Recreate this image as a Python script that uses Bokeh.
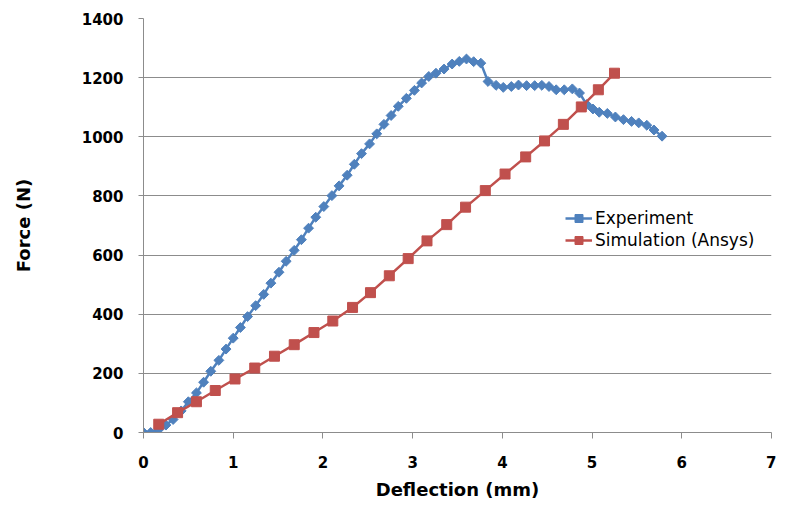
import numpy as np
from bokeh.plotting import figure
from bokeh.models import Range1d, FixedTicker
from bokeh.embed import file_html
from bokeh.resources import INLINE

# Experiment data (deflection mm, force N)
exp_x = [0.00, 0.08, 0.17, 0.25, 0.33, 0.42, 0.50, 0.59, 0.67, 0.75, 0.84, 0.92, 1.00, 1.08,
         1.16, 1.25, 1.34, 1.42, 1.51, 1.59, 1.68, 1.76, 1.84, 1.92, 2.01, 2.10, 2.18, 2.27,
         2.35, 2.43, 2.52, 2.60, 2.68, 2.76, 2.84, 2.93, 3.02, 3.10, 3.18, 3.26, 3.35, 3.44,
         3.52, 3.60, 3.68, 3.76, 3.84, 3.93, 4.01, 4.10, 4.18, 4.27, 4.36, 4.44, 4.52, 4.60,
         4.69, 4.78, 4.86, 4.94, 5.01, 5.08, 5.17, 5.26, 5.35, 5.44, 5.52, 5.61, 5.69, 5.78]
exp_y = [0, 0, 10, 25, 44, 73, 104, 134, 170, 207, 244, 282, 319, 355,
         392, 429, 467, 505, 542, 579, 616, 652, 691, 728, 764, 801, 834, 870,
         907, 943, 976, 1010, 1042, 1072, 1103, 1130, 1157, 1182, 1204, 1215, 1229, 1246,
         1255, 1263, 1254, 1249, 1187, 1174, 1167, 1170, 1175, 1173, 1173, 1174, 1170, 1159,
         1159, 1162, 1148, 1109, 1094, 1083, 1079, 1067, 1058, 1052, 1047, 1039, 1023, 1002]

# Simulation (Ansys)
sim_x = [0.17, 0.38, 0.59, 0.80, 1.02, 1.24, 1.46, 1.68, 1.90, 2.11, 2.33, 2.53, 2.74,
         2.95, 3.16, 3.38, 3.59, 3.81, 4.03, 4.26, 4.47, 4.68, 4.88, 5.07, 5.25]
sim_y = [28, 67, 104, 142, 181, 218, 258, 297, 338, 377, 423, 473, 530,
         588, 648, 703, 762, 818, 874, 932, 986, 1042, 1101, 1159, 1215]

x_ticks = [0, 1, 2, 3, 4, 5, 6, 7]
y_ticks = [0, 200, 400, 600, 800, 1000, 1200, 1400]

BLUE = "#4F81BD"
RED = "#C0504D"
GRAY = "#8C8C8C"

p = figure(width=776, height=502, output_backend="svg", toolbar_location=None,
           x_range=Range1d(0, 7), y_range=Range1d(0, 1400),
           min_border_left=143, min_border_right=5, min_border_top=18, min_border_bottom=70)
p.outline_line_color = None
p.background_fill_color = "white"
p.border_fill_color = "white"

p.line(exp_x, exp_y, line_color=BLUE, line_width=2.5, legend_label="Experiment")
p.scatter(exp_x, exp_y, marker="square", angle=np.pi / 4, size=7, fill_color=BLUE,
          line_color=BLUE, legend_label="Experiment")
p.line(sim_x, sim_y, line_color=RED, line_width=2.5, legend_label="Simulation (Ansys)")
p.scatter(sim_x, sim_y, marker="square", size=10, fill_color=RED, line_color=RED,
          legend_label="Simulation (Ansys)")

p.xaxis.ticker = FixedTicker(ticks=x_ticks)
p.yaxis.ticker = FixedTicker(ticks=y_ticks)
p.xgrid.grid_line_color = None
p.ygrid.grid_line_color = GRAY
p.ygrid.grid_line_width = 1

for ax in (p.xaxis, p.yaxis):
    ax.axis_line_color = GRAY
    ax.axis_line_width = 1
    ax.major_tick_line_color = GRAY
    ax.minor_tick_line_color = None
    ax.major_tick_in = 0
    ax.major_label_text_font = "DejaVu Sans"
    ax.major_label_text_font_style = "bold"
    ax.major_label_text_font_size = "15px"
    ax.major_label_text_color = "black"
    ax.axis_label_text_font = "DejaVu Sans"
    ax.axis_label_text_font_style = "bold"
    ax.axis_label_text_font_size = "18px"
    ax.axis_label_text_color = "black"

p.xaxis.major_tick_out = 6
p.yaxis.major_tick_out = 5
p.xaxis.major_label_standoff = 17
p.yaxis.major_label_standoff = 15
p.xaxis.axis_label = "Deflection (mm)"
p.yaxis.axis_label = "Force (N)"
p.xaxis.axis_label_standoff = 8
p.yaxis.axis_label_standoff = 45

lg = p.legend[0]
lg.location = (422, 182)
lg.margin = 0
lg.padding = 0
lg.border_line_color = None
lg.background_fill_alpha = 0
lg.glyph_width = 27
lg.glyph_height = 20
lg.label_height = 20
lg.label_standoff = 3
lg.spacing = 2
lg.label_text_font = "DejaVu Sans"
lg.label_text_font_size = "17px"
lg.label_text_color = "black"

open("out.html", "w").write(file_html(p, INLINE))
